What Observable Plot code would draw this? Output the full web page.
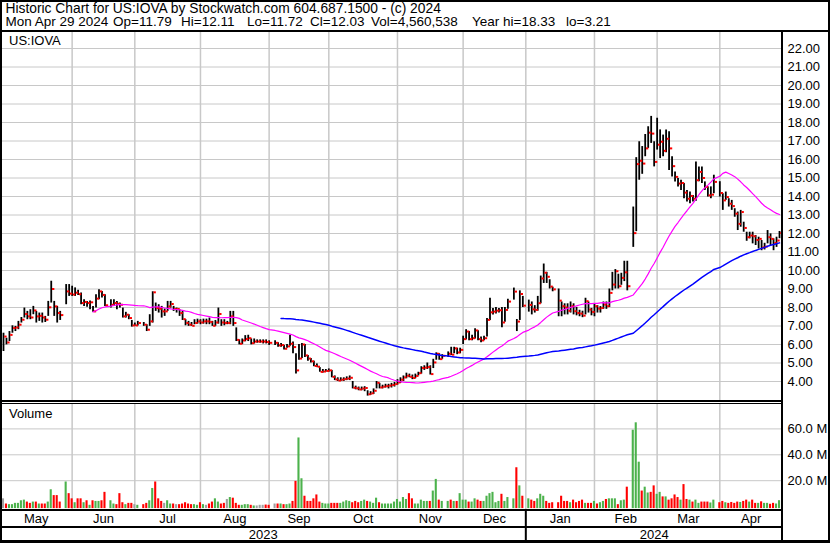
<!DOCTYPE html>
<html>
<head>
<meta charset="utf-8">
<script src="https://cdn.jsdelivr.net/npm/d3@7"></script>
<script src="https://cdn.jsdelivr.net/npm/@observablehq/plot@0.6"></script>
<style>
  html, body { margin: 0; padding: 0; background: #fff; }
  #chart { position: relative; width: 830px; height: 543px; background: #fff; overflow: hidden;
    font-family: Arial, "Liberation Sans", sans-serif; color: #000; }
  #chart .layer { position: absolute; left: 0; line-height: 0; }
  #chart .layer svg { display: block; }
  #chart .txt { position: absolute; white-space: pre; font-size: 13px; line-height: 13px; color: #000; }
  #chart .rule { position: absolute; background: #000; }
</style>
</head>
<body>
<div id="chart"></div>
<script>
// ---- Header text ----
const headerTitle = "Historic Chart for US:IOVA by Stockwatch.com 604.687.1500 - (c) 2024";
const headerStats = ["Mon Apr 29 2024", "Op=11.79", "Hi=12.11", "Lo=11.72", "Cl=12.03", "Vol=4,560,538", "Year hi=18.33", "lo=3.21"];
const symbolLabel = "US:IOVA";
const volumeLabel = "Volume";

// ---- Axis labels ----
const monthNames = ["May", "Jun", "Jul", "Aug", "Sep", "Oct", "Nov", "Dec", "Jan", "Feb", "Mar", "Apr"];
// weekday-slot index (Mon-Fri, May 1 2023 = 0) where each month's grid line falls
const monthStart = [0, 23, 44, 66, 89, 109, 132, 154, 175, 198, 219, 240];
const yearNames = ["2023", "2024"];
const yearStart = [0, 175];
const priceTicks = [4, 5, 6, 7, 8, 9, 10, 11, 12, 13, 14, 15, 16, 17, 18, 19, 20, 21, 22];
const volumeTicks = [20, 40, 60];

// ---- Daily data, one slot per weekday (null = market holiday) ----
const close = [
  6.43, 6.11, 6.52, 6.89, 6.92, 7.07, 7.34, 7.65, 7.52, 7.46, 7.84, 7.52, 7.55, 7.46, 7.34, 8.01, 9.0, 8.06, 7.7, 7.59, null, 8.87, 8.75,
  8.7, 8.8, 8.72, 8.24, 8.3, 8.24, 8.28, 7.79, 8.48, 8.87, 8.68, 8.12, null, 8.15, 8.24, 8.2, 8.15, 7.52, 7.61, 7.43, 7.03, 7.03,
  7.16, null, 7.07, 6.8, 7.25, 8.82, 7.97, 7.93, 7.79, 7.79, 8.06, 8.19, 7.92, 7.92, 7.7, 7.37, 7.16, 7.07, 7.01, 7.16, 7.25,
  7.19, 7.25, 7.25, 7.22, 7.01, 7.19, 7.65, 7.19, 7.16, 7.16, 7.52, 7.16, 6.25, 6.04, 6.22, 6.3, 6.34, 6.07, 6.16, 6.16, 6.16, 6.16, 6.13,
  6.09, null, 6.09, 5.95, 5.97, 5.77, 5.9, 6.04, 5.86, 4.6, 5.24, 6.0, 5.41, 5.24, 5.09, 4.84, 4.8, 4.52, 4.54, 4.57, 4.6,
  4.25, 4.11, 4.05, 4.1, 4.13, 4.16, 4.2, 3.66, 3.63, 3.57, 3.62, 3.65, 3.31, 3.36, 3.5, 3.93, 3.68, 3.72, 3.75, 3.78, 3.81, 3.86,
  3.95, 4.1, 4.22, 4.31, 4.25, 4.19, 4.3, 4.45, 4.73, 4.75, 4.78, 4.4, 5.03, 5.5, 5.21, 5.39, null, 5.5, 5.45, 5.79, 5.57, 5.71,
  6.29, 6.7, 6.29, 6.34, 6.76, 6.29, 6.22, 6.34, 7.33, 7.74, 7.78, 7.83, 7.85, 7.19, 7.87, 8.32, null, 8.86, 7.24, 8.73, 8.1,
  null, 8.14, 7.9, 7.87, 8.23, 9.57, 9.88, 9.66, 9.13, 8.98, null, 8.37, 8.07, 8.0, 7.82, 8.07, 7.8, 7.7, 7.67, 7.56, 8.34, 7.89, 7.76,
  8.07, 7.94, 7.97, 8.16, 8.07, 8.79, 9.24, 9.96, 9.15, 9.6, 9.9, 9.15, null, 12.02, 15.75, 15.93, 15.78, 16.6, 17.45, 17.4, 15.87,
  16.8, 16.96, 16.47, 17.12, 16.6, 15.64, 15.06, 14.7, 14.73, 14.21, 13.88, 14.03, 13.88, 14.88, 15.33, 15.0, 14.52, 14.06, 14.1, 14.79, null,
  14.19, 13.79, 13.97, 13.61, 13.48, 13.07, 12.52, 13.16, 12.3, 11.8, 11.89, 11.85, 11.65, 11.71, 11.25, 11.29, 11.8, 11.71, 11.49, 11.62, 12.03
];
const high = [
  6.61, 6.34, 6.7, 7.01, 6.98, 7.25, 7.46, 7.97, 7.79, 7.88, 8.06, 7.79, 7.7, 7.7, 7.52, 8.33, 9.42, 8.33, 8.06, 7.79, null, 9.24, 9.24,
  9.15, 9.06, 8.93, 8.78, 8.42, 8.33, 8.35, 8.06, 8.69, 8.96, 8.87, 8.69, null, 8.42, 8.42, 8.33, 8.24, 7.97, 7.74, 7.61, 7.3, 7.16,
  7.25, null, 7.19, 7.07, 7.61, 8.85, 8.24, 8.15, 8.06, 7.92, 8.33, 8.33, 8.06, 7.97, 7.88, 7.79, 7.34, 7.25, 7.19, 7.34, 7.37,
  7.34, 7.37, 7.37, 7.43, 7.25, 7.3, 7.97, 7.34, 7.34, 7.25, 7.79, 7.79, 6.9, 6.25, 6.3, 6.48, 6.5, 6.3, 6.3, 6.25, 6.25, 6.25, 6.25,
  6.2, null, 6.2, 6.1, 6.05, 5.95, 6.0, 6.5, 6.13, 5.5, 6.0, 6.05, 6.0, 5.4, 5.25, 5.1, 4.95, 4.75, 4.65, 4.65, 4.68,
  4.6, 4.3, 4.2, 4.2, 4.2, 4.25, 4.3, 4.0, 3.75, 3.7, 3.7, 3.72, 3.5, 3.45, 3.6, 4.0, 3.9, 3.8, 3.85, 3.85, 3.9, 3.95,
  4.1, 4.2, 4.3, 4.45, 4.4, 4.35, 4.4, 4.5, 4.8, 4.85, 5.0, 4.85, 5.2, 5.55, 5.5, 5.45, null, 5.6, 5.85, 5.85, 5.8, 5.8,
  6.45, 6.8, 6.7, 6.5, 6.85, 6.75, 6.4, 6.45, 7.4, 8.5, 7.95, 8.0, 7.95, 8.0, 8.0, 8.45, null, 9.05, 7.35, 8.9, 8.6,
  null, 8.4, 8.3, 8.1, 8.6, 9.7, 10.35, 9.9, 9.5, 9.1, null, 9.0, 8.3, 8.2, 8.2, 8.3, 8.2, 8.0, 7.85, 7.8, 8.5, 8.3, 7.95,
  8.2, 8.1, 8.05, 8.3, 8.3, 9.0, 9.9, 10.05, 9.8, 9.85, 10.5, 10.5, null, 13.43, 16.1, 16.96, 16.7, 17.35, 17.77, 18.33, 16.96,
  18.23, 17.6, 17.32, 17.6, 17.5, 16.15, 15.33, 14.97, 14.88, 14.7, 14.33, 14.24, 14.06, 15.87, 15.6, 15.6, 14.79, 14.52, 14.52, 15.15, null,
  14.8, 14.15, 14.24, 13.88, 13.79, 13.34, 13.16, 13.25, 12.61, 12.07, 12.07, 12.07, 11.89, 11.8, 11.62, 11.47, 12.16, 11.98, 11.71, 11.8, 12.11
];
const low = [
  5.62, 5.98, 6.16, 6.61, 6.7, 6.8, 7.16, 7.43, 7.34, 7.34, 7.61, 7.16, 7.25, 7.16, 7.19, 7.52, 8.24, 7.52, 7.16, 7.3, null, 8.15, 8.6,
  8.6, 8.6, 8.65, 8.15, 8.06, 8.02, 7.88, 7.74, 7.97, 8.42, 8.51, 8.06, null, 7.97, 8.06, 7.88, 7.97, 7.43, 7.43, 7.34, 6.94, 6.98,
  7.0, null, 6.98, 6.7, 6.98, 7.16, 7.79, 7.7, 7.43, 7.52, 7.79, 7.97, 7.79, 7.7, 7.52, 7.3, 7.01, 6.98, 6.98, 7.07, 7.1,
  7.07, 7.1, 7.07, 7.07, 6.98, 6.98, 7.1, 6.98, 7.01, 7.07, 7.07, 6.98, 6.16, 5.98, 6.0, 6.15, 6.16, 5.98, 6.03, 6.07, 6.07, 6.03, 6.03,
  5.95, null, 5.95, 5.85, 5.85, 5.7, 5.8, 5.9, 5.5, 4.4, 5.15, 5.25, 5.3, 5.1, 5.0, 4.8, 4.75, 4.5, 4.45, 4.5, 4.5,
  4.2, 4.05, 4.0, 4.0, 4.0, 4.05, 4.05, 3.6, 3.55, 3.5, 3.5, 3.45, 3.21, 3.25, 3.3, 3.6, 3.6, 3.6, 3.65, 3.6, 3.65, 3.7,
  3.8, 3.9, 4.0, 4.15, 4.2, 4.1, 4.15, 4.3, 4.4, 4.6, 4.65, 4.35, 4.7, 5.15, 5.15, 5.2, null, 5.3, 5.4, 5.5, 5.45, 5.5,
  6.0, 6.25, 6.2, 6.2, 6.3, 6.2, 6.1, 6.2, 6.4, 7.3, 7.6, 7.65, 7.7, 6.9, 7.2, 7.9, null, 8.4, 6.7, 7.3, 8.0,
  null, 7.75, 7.6, 7.7, 7.8, 8.2, 9.3, 9.3, 9.0, 8.85, null, 7.5, 7.5, 7.6, 7.6, 7.7, 7.6, 7.55, 7.5, 7.45, 7.6, 7.7, 7.55,
  7.5, 7.7, 7.7, 7.9, 7.9, 8.0, 8.9, 9.0, 9.0, 9.2, 9.4, 8.9, null, 11.25, 12.1, 14.88, 15.2, 16.15, 16.6, 16.87, 15.6,
  16.51, 16.05, 16.15, 16.36, 15.4, 15.06, 14.79, 14.52, 14.33, 13.88, 13.7, 13.61, 13.7, 13.75, 14.8, 14.7, 14.33, 13.97, 13.88, 14.15, null,
  13.97, 13.25, 13.79, 13.43, 13.25, 12.88, 12.16, 12.34, 12.07, 11.58, 11.71, 11.44, 11.35, 11.16, 11.07, 11.11, 11.44, 11.35, 11.07, 11.25, 11.72
];
// volume in millions of shares
const volume = [
  6, 2, 1.5, 1.5, 2.5, 2.5, 4.5, 5, 3.5, 2.5, 3.5, 3.5, 2, 2, 2, 3.5, 13, 8.5, 8.5, 3.5, null, 19, 10,
  6, 3, 6, 6, 3, 4.5, 1, 4.5, 4, 4, 4.5, 11, null, 4.5, 2, 1.5, 10, 3, 1.5, 2.5, 2.5, 1.5,
  1, null, 1.5, 2.5, 4.5, 14, 19, 6, 4, 2.5, 4.5, 2, 2, 1.5, 1.5, 2, 3, 2, 1.5, 1.5, 1,
  3, 1.5, 1, 2, 3.5, 6, 3.5, 2, 2.5, 5.5, 7, 6.5, 2.5, 1, 1, 1.5, 1.5, 1, 0.5, 0.5, 1, 1, 1.2,
  1, null, 2, 2, 2, 1.5, 1.5, 2, 4, 19.5, 53, 21.5, 8, 4, 4, 6, 9, 3.5, 2.5, 2, 2,
  2.5, 2.5, 2.5, 2.5, 3.5, 4.5, 4, 3, 4, 3, 4, 5, 4, 3.5, 2.5, 6.5, 3, 2, 2, 2, 2, 3.5,
  5.5, 3.5, 7, 5.5, 10, 6, 2, 2, 5, 4, 4, 4, 12, 21, 5, 4, null, 4, 5, 4, 4, 10,
  5, 5, 3.5, 3.5, 6, 5, 4, 4, 8, 10, 11, 3, 4, 9.5, 4, 7, null, 6, 30, 16, 8,
  null, 6, 5, 4, 6, 9.5, 8, 4, 2.5, 3, null, 3, 8, 4, 4, 3, 5, 3, 4, 5, 2.5, 2.5, 2.5,
  4, 2, 3, 4, 5.5, 6, 6, 6, 1.5, 4.5, 5, 15, null, 59, 64.7, 34.3, 12, 15, 10.5, 11, 16,
  9.5, 11, 7.5, 7.5, 5, 6, 9, 7, 5, 17, 5.5, 5, 3.5, 5, 2.5, 3.5, 3.5, 3.5, 2.8, 5, null,
  3, 4, 3, 2.5, 3.2, 2.5, 3.5, 3.2, 4, 5, 3.5, 5, 2.5, 2.5, 3.7, 2.5, 2.5, 1.8, 2.5, 2, 4.56
];

// ---- Build trading-day rows ----
const rows = [];
let prevClose = null;
close.forEach((c, i) => {
  if (c == null) return;
  const dir = prevClose == null ? 0 : Math.sign(c - prevClose);
  rows.push({i, close: c, high: high[i], low: low[i], vol: volume[i], dir});
  prevClose = c;
});
const volColor = d => d.dir > 0 ? "#4cb24c" : d.dir < 0 ? "#ff0000" : "#a0a0a0";

const xDomain = [-1, 261];
const edges = [xDomain[0], ...monthStart.slice(1), xDomain[1]];
const monthLabels = monthNames.map((m, k) => ({m, x: (edges[k] + edges[k + 1]) / 2}));
const yEdges = [xDomain[0], ...yearStart.slice(1), xDomain[1]];
const yearLabels = yearNames.map((y, k) => ({y, x: (yEdges[k] + yEdges[k + 1]) / 2}));

const font = "Arial, 'Liberation Sans', sans-serif";
const baseStyle = {fontFamily: font, fontSize: "13px", color: "#000", background: "transparent", overflow: "visible"};
const frame = {width: 830, marginLeft: 0, marginRight: 48, marginTop: 0, marginBottom: 0, style: baseStyle};

const chart = document.getElementById("chart");
function place(svg, top) {
  const d = document.createElement("div");
  d.className = "layer";
  d.style.top = top + "px";
  d.appendChild(svg);
  chart.appendChild(d);
}
function rule(l, t, w, h) {
  const d = document.createElement("div");
  d.className = "rule";
  Object.assign(d.style, {left: l + "px", top: t + "px", width: w + "px", height: h + "px"});
  chart.appendChild(d);
}
function label(text, l, t, size) {
  const d = document.createElement("div");
  d.className = "txt";
  d.textContent = text;
  Object.assign(d.style, {left: l + "px", top: t + "px"});
  if (size) { d.style.fontSize = size + "px"; d.style.lineHeight = size + "px"; }
  chart.appendChild(d);
}

// ---- Price panel ----
const price = Plot.plot({
  ...frame,
  height: 369,
  x: {domain: xDomain, axis: null},
  y: {domain: [4, 22], range: [350, 17], axis: null},
  marks: [
    Plot.gridY(priceTicks, {stroke: "#c8c8c8", strokeOpacity: 1}),
    Plot.ruleX(monthStart.slice(1), {stroke: "#c8c8c8", strokeWidth: 1.5}),
    Plot.axisY(priceTicks, {anchor: "right", label: null, tickSize: 0, tickPadding: 5, tickFormat: d => d.toFixed(2), fill: "#000"}),
    Plot.ruleX(rows, {x: "i", y1: "low", y2: "high", stroke: "#000", strokeWidth: 1.8}),
    Plot.link(rows, {x1: d => d.i + 0.25, x2: d => d.i + 1.05, y1: "close", y2: "close", stroke: "#ff0000", strokeWidth: 2}),
    Plot.lineY(rows, Plot.windowY({k: 30, anchor: "end", reduce: "mean", strict: true}, {x: "i", y: "close", stroke: "#ff00ff", strokeWidth: 1.2})),
    Plot.lineY(rows, Plot.windowY({k: 90, anchor: "end", reduce: "mean", strict: true}, {x: "i", y: "close", stroke: "#0000ff", strokeWidth: 1.5}))
  ]
});
place(price, 31);

// ---- Volume panel ----
const vol = Plot.plot({
  ...frame,
  height: 105,
  x: {domain: xDomain, axis: null},
  y: {domain: [0, 60], range: [102.1, 24.4], axis: null},
  marks: [
    Plot.gridY(volumeTicks, {stroke: "#c8c8c8", strokeOpacity: 1}),
    Plot.ruleX(monthStart.slice(1), {stroke: "#c8c8c8", strokeWidth: 1.5}),
    Plot.axisY(volumeTicks, {anchor: "right", label: null, tickSize: 0, tickPadding: 5, tickFormat: d => d.toFixed(1) + " M", fill: "#000"}),
    Plot.rect(rows, {x1: d => d.i - 0.35, x2: d => d.i + 0.35, y1: 0, y2: "vol", insetBottom: -2, fill: volColor})
  ]
});
place(vol, 404);

// ---- Month row ----
const monthsRow = Plot.plot({
  ...frame,
  height: 15,
  x: {domain: xDomain, axis: null},
  marks: [
    Plot.text(monthLabels, {x: "x", text: "m", fontSize: 13, fill: "#000"}),
    Plot.ruleX([yearStart[1]], {stroke: "#000", strokeWidth: 2})
  ]
});
place(monthsRow, 511);

// ---- Year row ----
const yearsRow = Plot.plot({
  ...frame,
  height: 13,
  x: {domain: xDomain, axis: null},
  marks: [
    Plot.text(yearLabels, {x: "x", text: "y", fontSize: 13, fill: "#000"}),
    Plot.ruleX([yearStart[1]], {stroke: "#000", strokeWidth: 2})
  ]
});
place(yearsRow, 528);

// ---- Frame lines ----
rule(0, 0, 830, 2);        // top border
rule(0, 30, 830, 2);       // header bottom
rule(0, 0, 2, 543);        // left border
rule(828, 0, 2, 543);      // right border
rule(0, 540, 830, 3);      // bottom border
rule(781, 30, 2, 513);     // axis separator
rule(0, 400, 782, 1.5);    // price / volume double line
rule(0, 403, 782, 1);
rule(0, 509, 782, 2);      // volume bottom
rule(0, 526, 782, 2);      // month row bottom

// ---- Text ----
label(headerTitle, 5.5, 1.5, 13.8);
const statX = [5.5, 113, 181, 247, 310, 371, 472, 566];
headerStats.forEach((s, k) => label(s, statX[k], 15, 13.5));
label(symbolLabel, 9, 34);
label(volumeLabel, 9, 406.5);
</script>
</body>
</html>
